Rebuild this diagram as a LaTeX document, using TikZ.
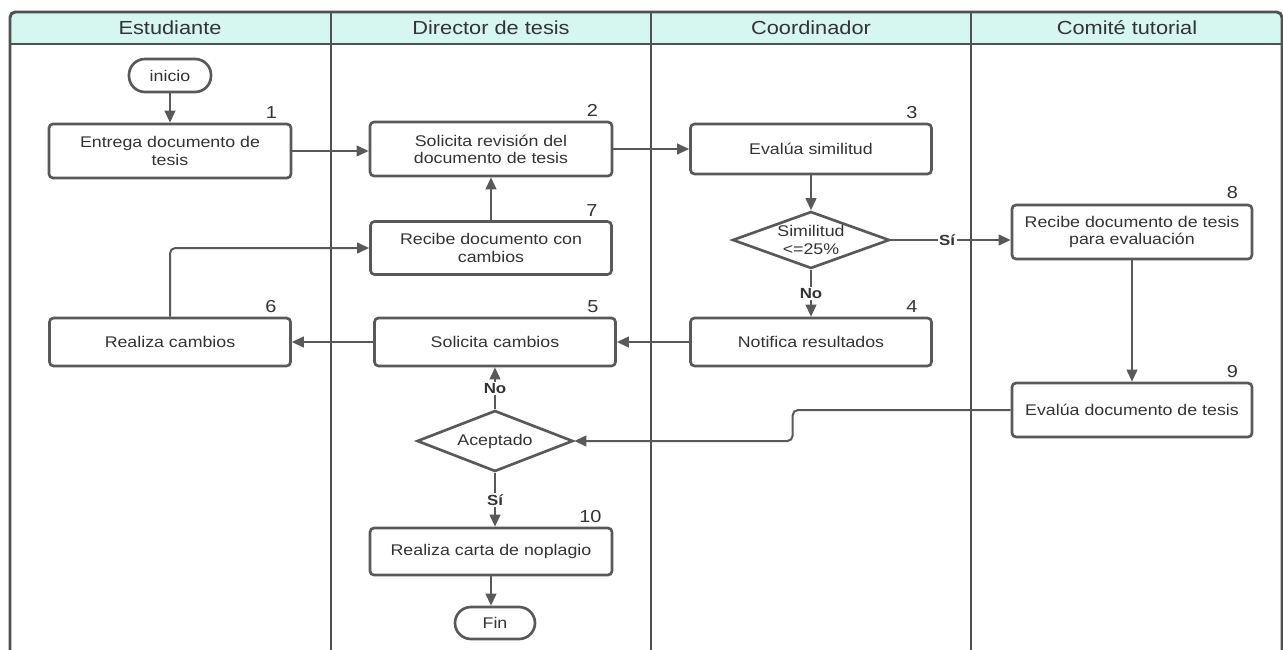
\documentclass[tikz,border=0pt]{standalone}
\usepackage{fontspec}
\setmainfont{Liberation Sans}[FakeStretch=1.15]
\usetikzlibrary{shapes.geometric,arrows.meta,calc}
\definecolor{ln}{HTML}{595959}
\definecolor{fr}{HTML}{505050}
\definecolor{tx}{HTML}{333333}
\definecolor{hdr}{HTML}{D5F7EF}
\tikzset{
  proc/.style={draw=ln, line width=2pt, rounded corners=3pt, fill=white, align=center,
    text=tx, font=\fontsize{11.6}{12.8}\selectfont, inner sep=0pt},
  term/.style={draw=ln, line width=2pt, rounded corners=12pt, fill=white, align=center,
    text=tx, font=\fontsize{11.6}{12.8}\selectfont, inner sep=0pt},
  dec/.style={diamond, draw=ln, line width=2pt, fill=white, aspect=2.7, inner sep=0pt,
    align=center, text=tx, font=\fontsize{11.6}{12.8}\selectfont},
  num/.style={text=tx, font=\fontsize{13}{14}\selectfont, inner sep=0pt},
  lab/.style={fill=white, inner sep=1.2pt, text=tx, font=\bfseries\fontsize{11}{12}\selectfont},
  hd/.style={text=tx, font=\fontsize{14.2}{16}\selectfont, inner sep=0pt},
  arr/.style={draw=ln, line width=1.5pt, -{Triangle[length=9pt,width=8pt]}},
  lane/.style={draw=fr, line width=2.2pt},
}
\begin{document}
\begin{tikzpicture}[x=0.75pt,y=-0.75pt]
\useasboundingbox (0,0) rectangle (1283,650);
% header and frame
\fill[hdr, rounded corners=4pt] (10,650) -- (10,12) -- (1282,12) -- (1282,44) -- (10,44) -- cycle;
\fill[white] (10,44) rectangle (1282,650);
\draw[lane] (10,44) -- (1282,44);
\draw[lane] (331,12) -- (331,650);
\draw[lane] (651,12) -- (651,650);
\draw[lane] (971,12) -- (971,650);
\draw[lane, rounded corners=4pt] (10,650) -- (10,12) -- (1282,12) -- (1282,650);
\node[hd] (h1) at (170,28) {Estudiante};
\node[hd] (h2) at (491,28) {Director de tesis};
\node[hd] (h3) at (811,28) {Coordinador};
\node[hd] (h4) at (1127,28) {Comité tutorial};
% nodes
\node[term, minimum width=61.5pt, minimum height=24.75pt] (ini) at (170,75.5) {inicio};
\node[proc, minimum width=181.5pt, minimum height=40.5pt] (b1) at (170,151) {Entrega documento de\\tesis};
\node[proc, minimum width=181.5pt, minimum height=40.5pt] (b2) at (491,149) {Solicita revisión del\\documento de tesis};
\node[proc, minimum width=180.75pt, minimum height=37.5pt] (b3) at (811,149) {Evalúa similitud};
\node[dec, minimum width=117.75pt, minimum height=42.75pt] (sim) at (811,240) {Similitud\\<=25\%};
\node[proc, minimum width=180pt, minimum height=40.5pt] (b8) at (1132,232) {Recibe documento de tesis\\para evaluación};
\node[proc, minimum width=180.75pt, minimum height=39.75pt] (b7) at (491,248) {Recibe documento con\\cambios};
\node[proc, minimum width=180.75pt, minimum height=36pt] (b6) at (170,342) {Realiza cambios};
\node[proc, minimum width=180.75pt, minimum height=36pt] (b5) at (495,342) {Solicita cambios};
\node[proc, minimum width=180.75pt, minimum height=36pt] (b4) at (811,342) {Notifica resultados};
\node[proc, minimum width=180pt, minimum height=40.5pt] (b9) at (1132,410) {Evalúa documento de tesis};
\node[dec, minimum width=117pt, minimum height=45.75pt] (acp) at (495,441) {Aceptado};
\node[proc, minimum width=181.5pt, minimum height=35.25pt] (b10) at (491,551.5) {Realiza carta de noplagio};
\node[term, minimum width=60pt, minimum height=24pt] (fin) at (495,623) {Fin};
% numbers
\node[num] (n1) at ($(b1.north east)+(-21,-10)$) {1};
\node[num] (n2) at ($(b2.north east)+(-21,-10)$) {2};
\node[num] (n3) at ($(b3.north east)+(-21,-10)$) {3};
\node[num] (n4) at ($(b4.north east)+(-21,-10)$) {4};
\node[num] (n5) at ($(b5.north east)+(-24,-10)$) {5};
\node[num] (n6) at ($(b6.north east)+(-21,-10)$) {6};
\node[num] (n7) at ($(b7.north east)+(-21,-10)$) {7};
\node[num] (n8) at ($(b8.north east)+(-21,-11)$) {8};
\node[num] (n9) at ($(b9.north east)+(-21,-10)$) {9};
\node[num] (n10) at ($(b10.north east)+(-23,-10)$) {10};
% connectors
\draw[arr] (ini.south) -- (ini.south |- b1.north);
\draw[arr] (b1.east) -- (b1.east -| b2.west);
\draw[arr] (b2.east) -- (b2.east -| b3.west);
\draw[arr] (b3.south) -- (sim.north);
\draw[arr] (sim.east) -- node[lab, pos=0.47] {Sí} (sim.east -| b8.west);
\draw[arr] (sim.south) -- node[lab] {No} (b4.north);
\draw[arr] (b4.west) -- (b4.west -| b5.east);
\draw[arr] (b5.west) -- (b5.west -| b6.east);
\draw[arr, rounded corners=4pt] (b6.north) |- (b7.west);
\draw[arr] (b7.north) -- (b7.north |- b2.south);
\draw[arr] (b8.south) -- (b9.north);
\draw[arr, rounded corners=4pt] (b9.west) -- ++(-218,0) |- (acp.east);
\draw[arr] (acp.north) -- node[lab] {No} (b5.south);
\draw[arr] (acp.south) -- node[lab] {Sí} (acp.south |- b10.north);
\draw[arr] (b10.south) -- (b10.south |- fin.north);
\end{tikzpicture}
\end{document}
